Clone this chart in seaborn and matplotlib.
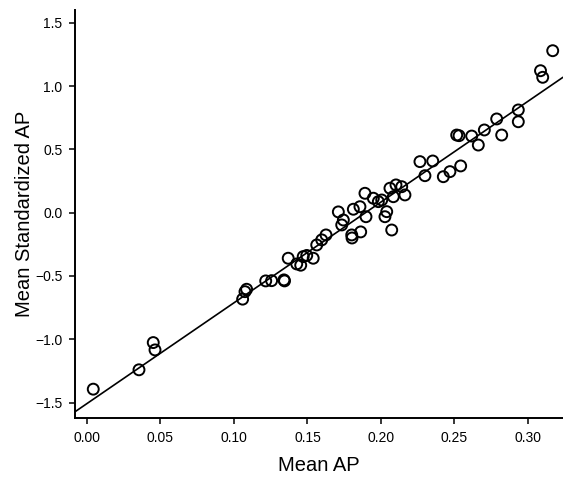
import numpy as np
import pandas as pd
import matplotlib
matplotlib.use("Agg")
import matplotlib.pyplot as plt
import seaborn as sns
from matplotlib.ticker import FormatStrFormatter

mean_ap = [0.0043, 0.0354, 0.0451, 0.0463, 0.1059, 0.1075, 0.1086, 0.1216, 0.1256, 0.1340,
           0.1344, 0.1369, 0.1427, 0.1454, 0.1471, 0.1495, 0.1539, 0.1563, 0.1597, 0.1626,
           0.1710, 0.1744, 0.1733, 0.1801, 0.1803, 0.1812, 0.1857, 0.1862, 0.1898, 0.1891,
           0.1948, 0.1982, 0.2005, 0.2039, 0.2027, 0.2061, 0.2073, 0.2102, 0.2141, 0.2163,
           0.2084, 0.2265, 0.2299, 0.2352, 0.2424, 0.2469, 0.2542, 0.2515, 0.2531, 0.2617,
           0.2662, 0.2703, 0.2787, 0.2821, 0.2934, 0.2934, 0.3085, 0.3100, 0.3168]
mean_std_ap = [-1.394, -1.241, -1.026, -1.084, -0.683, -0.624, -0.605, -0.539, -0.537, -0.531,
               -0.539, -0.360, -0.405, -0.415, -0.347, -0.338, -0.360, -0.255, -0.215, -0.176,
               0.006, -0.058, -0.097, -0.176, -0.200, 0.027, 0.047, -0.152, -0.032, 0.153,
               0.114, 0.087, 0.100, 0.008, -0.032, 0.193, -0.137, 0.219, 0.205, 0.140,
               0.126, 0.403, 0.292, 0.408, 0.284, 0.324, 0.369, 0.613, 0.608, 0.605,
               0.534, 0.653, 0.740, 0.613, 0.811, 0.718, 1.121, 1.069, 1.279]

x_ticks = [0.00, 0.05, 0.10, 0.15, 0.20, 0.25, 0.30]
y_ticks = [-1.5, -1.0, -0.5, 0.0, 0.5, 1.0, 1.5]

df = pd.DataFrame({"Mean AP": mean_ap, "Mean Standardized AP": mean_std_ap})

sns.set_theme(style="ticks")
plt.rcParams["font.family"] = ["Liberation Sans", "DejaVu Sans"]

fig = plt.figure(figsize=(5.63, 4.79), dpi=100)
ax = fig.add_axes([0.133, 0.127, 0.867, 0.852])
xlim = (-0.0082, 0.3238)
ylim = (-1.623, 1.60)
ax.set_xlim(*xlim)
ax.set_ylim(*ylim)

sns.regplot(data=df, x="Mean AP", y="Mean Standardized AP", ax=ax, ci=None,
            truncate=False,
            scatter_kws=dict(s=62, facecolors="none", edgecolors="black", linewidths=1.4,
                             alpha=1.0),
            line_kws=dict(color="black", linewidth=1.2))

ax.set_xlim(*xlim)
ax.set_ylim(*ylim)
ax.set_xticks(x_ticks)
ax.set_yticks(y_ticks)
ax.xaxis.set_major_formatter(FormatStrFormatter("%.2f"))
ax.set_yticklabels([f"{v:.1f}".replace("-", "\u2212") for v in y_ticks])

for s in ["top", "right"]:
    ax.spines[s].set_visible(False)
for s in ["left", "bottom"]:
    ax.spines[s].set_linewidth(1.4)
    ax.spines[s].set_color("black")
ax.tick_params(axis="both", direction="out", length=4, width=1.1, colors="black",
               labelsize=10, pad=5)
ax.set_xlabel("Mean AP", fontsize=14.5, labelpad=8, color="black")
ax.set_ylabel("Mean Standardized AP", fontsize=14.5, labelpad=1, color="black")

fig.savefig("out.png", dpi=100)
